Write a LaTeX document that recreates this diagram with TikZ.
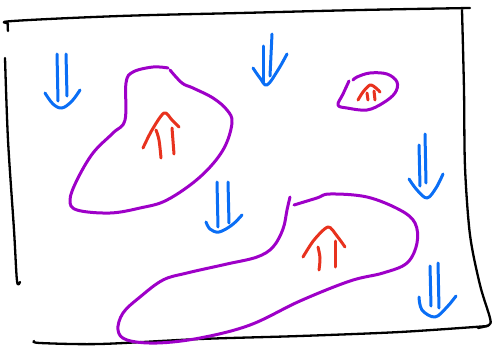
\documentclass[tikz,border=0pt]{standalone}
\begin{document}
\begin{tikzpicture}[x=1pt,y=-1pt,line cap=round,line join=round,
  frame/.style={black,line width=2.3pt},
  blob/.style={draw=blobc,line width=3pt},
  uparrow/.style={draw=upc,line width=3pt},
  downarrow/.style={draw=downc,line width=3pt}]
\definecolor{blobc}{RGB}{158,0,200}
\definecolor{upc}{RGB}{232,50,30}
\definecolor{downc}{RGB}{10,110,245}
\useasboundingbox (0,0) rectangle (493,351);
% frame
\draw[frame] plot[smooth,tension=0.6] coordinates {(8,31) (8,24) (13,21) (120,16) (240,13) (360,10) (470,8)};
\draw[frame] plot[smooth,tension=0.5] coordinates {(462,10) (464,90) (465,167) (470,235) (480,285) (490,318) (489,325) (478,328)};
\draw[frame] plot[smooth,tension=0.5] coordinates {(488,326) (400,332) (300,336) (200,339) (100,344) (40,343) (34,341)};
\draw[frame] plot[smooth,tension=0.5] coordinates {(5,58) (8,140) (14,230) (17,281) (20,282)};
% purple blobs
\draw[blob] plot[smooth,tension=0.6] coordinates {(168,68) (153,67) (133,72) (126,83) (125,120) (113,133) (93,153) (77,180) (70,200) (77,210) (110,213) (140,208) (167,200) (200,177) (223,150) (232,123) (227,110) (213,98) (193,88) (182,83) (170,70)};
\draw[blob] plot[smooth,tension=0.6] coordinates {(290,197) (287,210) (283,229) (273,247) (257,257) (227,264) (187,273) (163,280) (140,297) (123,313) (118,330) (127,340) (157,343) (200,338) (250,325) (300,301) (350,281) (383,273) (407,263) (417,243) (415,223) (400,210) (367,197) (330,194) (317,198) (294,205)};
\draw[blob] plot[smooth,tension=0.6] coordinates {(349,81) (343,94) (338,105) (347,108) (367,110) (383,103) (395,93) (397,82) (387,74) (370,73) (357,77) (353,80)};
% red up arrows
\draw[uparrow] plot[smooth,tension=0.5] coordinates {(143,148) (152,130) (164,113) (172,120) (179,127)};
\draw[uparrow] plot[smooth,tension=0.6] coordinates {(161,158) (159,140) (156,130)};
\draw[uparrow] (174,154) -- (172,128);
\draw[uparrow] plot[smooth,tension=0.5] coordinates {(303,257) (314,240) (328,227) (337,236) (345,247)};
\draw[uparrow] plot[smooth,tension=0.6] coordinates {(319,270) (320,258) (318,247)};
\draw[uparrow] (335,267) -- (335,241);
\draw[uparrow] plot[smooth,tension=0.5] coordinates {(358,100) (363,92) (370,85) (376,88) (380,92)};
\draw[uparrow] (368,100) -- (367,93);
\draw[uparrow] (375,100) -- (374,91);
% blue down arrows
\draw[downarrow] (57,54) -- (58,101);
\draw[downarrow] (66,54) -- (67,96);
\draw[downarrow] plot[smooth,tension=0.6] coordinates {(45,93) (53,104) (62,108) (72,101) (80,90)};
\draw[downarrow] (263,46) -- (263,82);
\draw[downarrow] (272,34) -- (270,76);
\draw[downarrow] plot[smooth,tension=0.6] coordinates {(253,68) (260,78) (267,85) (278,70) (287,54)};
\draw[downarrow] (217,182) -- (218,227);
\draw[downarrow] (228,182) -- (229,223);
\draw[downarrow] plot[smooth,tension=0.6] coordinates {(206,222) (210,229) (219,232) (232,225) (242,215)};
\draw[downarrow] (419,145) -- (420,186);
\draw[downarrow] (425,134) -- (426,183);
\draw[downarrow] plot[smooth,tension=0.6] coordinates {(409,179) (417,190) (427,198) (436,188) (443,174)};
\draw[downarrow] (430,266) -- (431,306);
\draw[downarrow] (438,263) -- (439,308);
\draw[downarrow] plot[smooth,tension=0.6] coordinates {(419,297) (422,310) (435,317) (447,307) (456,296)};
\end{tikzpicture}
\end{document}
